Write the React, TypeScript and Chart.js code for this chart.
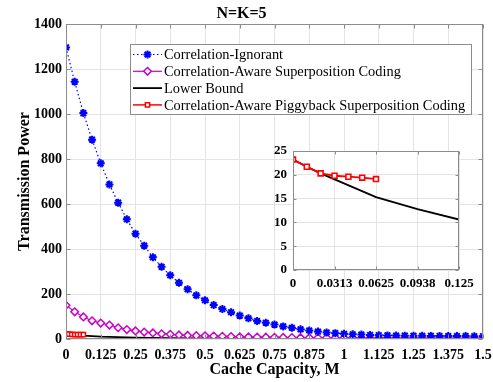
import React, { useEffect, useRef } from "react";
import { Chart, registerables } from "chart.js";

Chart.register(...registerables);

const FONT = "'Liberation Serif', 'Times New Roman', serif";

// ---------- data ----------
const chartTitle = "N=K=5";
const xTitle = "Cache Capacity, M";
const yTitle = "Transmission Power";

const legendLabels = [
  "Correlation-Ignorant",
  "Correlation-Aware Superposition Coding",
  "Lower Bound",
  "Correlation-Aware Piggyback Superposition Coding",
];

// cache capacity grid (step 1/32) for the first two curves
const mGrid = [
  0, 0.03125, 0.0625, 0.09375, 0.125, 0.15625, 0.1875, 0.21875, 0.25, 0.28125,
  0.3125, 0.34375, 0.375, 0.40625, 0.4375, 0.46875, 0.5, 0.53125, 0.5625, 0.59375,
  0.625, 0.65625, 0.6875, 0.71875, 0.75, 0.78125, 0.8125, 0.84375, 0.875, 0.90625,
  0.9375, 0.96875, 1, 1.03125, 1.0625, 1.09375, 1.125, 1.15625, 1.1875, 1.21875,
  1.25, 1.28125, 1.3125, 1.34375, 1.375, 1.40625, 1.4375, 1.46875, 1.5,
];

const ignorantPower = [
  1296, 1143, 1004, 886, 781, 687, 606, 532, 468, 415,
  363, 321, 283, 250, 221, 194, 172, 151, 133, 119,
  104, 92, 80, 72, 64, 56, 50, 43, 38, 33,
  29, 26, 23, 21, 19.5, 18, 17, 16, 15.5, 15,
  14.5, 14, 13.8, 13.5, 13.2, 13, 12.8, 12.6, 12.5,
];

const superpositionPower = [
  150, 121, 98, 81, 71, 62, 50, 42, 36, 31,
  27, 23, 21, 18, 16, 15, 14, 13, 12, 11,
  10, 9, 8.5, 8, 7.5, 7, 6.5, 6, 5.8, 5.5,
  5.2, 5, 4.8, 4.6, 4.4, 4.2, 4, 3.9, 3.8, 3.7,
  3.6, 3.5, 3.4, 3.3, 3.2, 3.1, 3, 3, 3,
];

const lowerBoundM = [0, 0.0104, 0.0208, 0.0625, 0.09375, 0.125, 0.25, 0.375, 0.5, 0.75, 1, 1.25, 1.5];
const lowerBoundPower = [23.2, 21.7, 20.3, 15.3, 12.8, 10.6, 6, 4, 2.6, 1.2, 0.5, 0.2, 0];

const piggybackM = [0, 0.0104, 0.0208, 0.03125, 0.0417, 0.0521, 0.0625];
const piggybackPower = [23.2, 21.7, 20.3, 19.8, 19.6, 19.4, 19.1];

const insetXTickValues = [0, 0.03125, 0.0625, 0.09375, 0.125];
const insetXTickLabels = ["0", "0.0313", "0.0625", "0.0938", "0.125"];

// ---------- helpers ----------
const zip = (xs: number[], ys: number[]) => xs.map((x, i) => ({ x, y: ys[i] }));

const BLUE = "#0000ff";
const MAGENTA = "#c800c8";
const RED = "#ff0000";
const BLACK = "#000000";
const GRID = "#e4e4e4";
const FRAME = "#8c8c8c";

function drawMarker(ctx: CanvasRenderingContext2D, style: string, x: number, y: number, r: number, fill: string, stroke: string, lw: number) {
  ctx.save();
  ctx.lineWidth = lw;
  ctx.strokeStyle = stroke;
  ctx.fillStyle = fill;
  ctx.beginPath();
  if (style === "star") {
    ctx.moveTo(x - r, y); ctx.lineTo(x + r, y);
    ctx.moveTo(x, y - r); ctx.lineTo(x, y + r);
    const d = r * 0.7071;
    ctx.moveTo(x - d, y - d); ctx.lineTo(x + d, y + d);
    ctx.moveTo(x - d, y + d); ctx.lineTo(x + d, y - d);
    ctx.stroke();
  } else if (style === "rectRot") {
    ctx.moveTo(x, y - r); ctx.lineTo(x + r, y); ctx.lineTo(x, y + r); ctx.lineTo(x - r, y); ctx.closePath();
    ctx.fill(); ctx.stroke();
  } else if (style === "rect") {
    const s = r * 0.7071;
    ctx.rect(x - s, y - s, 2 * s, 2 * s);
    ctx.fill(); ctx.stroke();
  }
  ctx.restore();
}

const framePlugin = {
  id: "frame",
  beforeDraw(chart: any, _args: any, opts: any) {
    if (!opts || !opts.fill) return;
    const { ctx, chartArea: a } = chart;
    ctx.save();
    ctx.fillStyle = opts.fill;
    ctx.fillRect(a.left, a.top, a.right - a.left, a.bottom - a.top);
    ctx.restore();
  },
  afterDraw(chart: any, _args: any, opts: any) {
    const { ctx, chartArea: a, scales } = chart;
    const tl = (opts && opts.tickLen) || 4;
    ctx.save();
    ctx.strokeStyle = FRAME;
    ctx.lineWidth = 1;
    const L = Math.round(a.left) + 0.5, R = Math.round(a.right) - 0.5;
    const T = Math.round(a.top) + 0.5, B = Math.round(a.bottom) - 0.5;
    ctx.beginPath();
    scales.x.ticks.forEach((_t: any, i: number) => {
      const px = Math.round(scales.x.getPixelForTick(i)) + 0.5;
      ctx.moveTo(px, B); ctx.lineTo(px, B - tl);
      ctx.moveTo(px, T); ctx.lineTo(px, T + tl);
    });
    scales.y.ticks.forEach((_t: any, i: number) => {
      const py = Math.round(scales.y.getPixelForTick(i)) + 0.5;
      ctx.moveTo(L, py); ctx.lineTo(L + tl, py);
      ctx.moveTo(R, py); ctx.lineTo(R - tl, py);
    });
    ctx.stroke();
    ctx.strokeRect(L, T, R - L, B - T);
    ctx.restore();
  },
};

const boxLegendPlugin = {
  id: "boxLegend",
  afterDraw(chart: any, _args: any, opts: any) {
    if (!opts || !opts.items) return;
    const ctx: CanvasRenderingContext2D = chart.ctx;
    const { x, y, w, h, rowTop, rowStep, lineX0, lineX1, textX, fontSize } = opts;
    ctx.save();
    ctx.fillStyle = "#ffffff";
    ctx.fillRect(x, y, w, h);
    ctx.strokeStyle = FRAME;
    ctx.lineWidth = 1;
    ctx.strokeRect(x + 0.5, y + 0.5, w, h);
    ctx.font = `${fontSize}px ${FONT}`;
    ctx.textBaseline = "middle";
    ctx.textAlign = "left";
    opts.items.forEach((it: any, row: number) => {
      const ds = chart.data.datasets[it.ds];
      const cy = rowTop + row * rowStep;
      ctx.save();
      ctx.strokeStyle = ds.borderColor;
      ctx.lineWidth = ds.borderWidth;
      ctx.setLineDash(ds.borderDash || []);
      ctx.beginPath();
      ctx.moveTo(lineX0, cy);
      ctx.lineTo(lineX1, cy);
      ctx.stroke();
      ctx.restore();
      if (ds.pointRadius > 0) {
        drawMarker(ctx, ds.pointStyle, (lineX0 + lineX1) / 2, cy, ds.pointRadius, ds.pointBackgroundColor, ds.pointBorderColor, ds.pointBorderWidth);
      }
      ctx.fillStyle = "#000";
      ctx.fillText(legendLabels[row], textX, cy + 1);
    });
    ctx.restore();
  },
};

export default function App() {
  const mainRef = useRef<HTMLCanvasElement>(null);
  const insetRef = useRef<HTMLCanvasElement>(null);

  useEffect(() => {
    const tickFont = { family: FONT, size: 14, weight: "bold" as const };
    const titleFont = { family: FONT, size: 16, weight: "bold" as const, lineHeight: 1.2 };

    const main = new Chart(mainRef.current!, {
      type: "scatter",
      data: {
        datasets: [
          {
            label: legendLabels[0],
            data: zip(mGrid, ignorantPower),
            showLine: true,
            borderColor: BLUE,
            borderWidth: 1.2,
            borderDash: [1.5, 2.5],
            pointStyle: "star",
            pointRadius: 4,
            pointBorderWidth: 2,
            pointBorderColor: BLUE,
            pointBackgroundColor: BLUE,
          },
          {
            label: legendLabels[1],
            data: zip(mGrid, superpositionPower),
            showLine: true,
            borderColor: MAGENTA,
            borderWidth: 1.2,
            pointStyle: "rectRot",
            pointRadius: 3.8,
            pointBorderWidth: 1.5,
            pointBorderColor: MAGENTA,
            pointBackgroundColor: "#ffffff",
          },
          {
            label: legendLabels[3],
            data: zip(piggybackM, piggybackPower),
            showLine: true,
            borderColor: RED,
            borderWidth: 1.5,
            pointStyle: "rect",
            pointRadius: 3,
            pointBorderWidth: 1.5,
            pointBorderColor: RED,
            pointBackgroundColor: "#ffffff",
          },
          {
            label: legendLabels[2],
            data: zip(lowerBoundM, lowerBoundPower),
            showLine: true,
            borderColor: BLACK,
            borderWidth: 1.8,
            pointRadius: 0,
            pointBorderWidth: 0,
            pointBorderColor: BLACK,
            pointBackgroundColor: BLACK,
          },
        ] as any,
      },
      options: {
        animation: false,
        responsive: false,
        devicePixelRatio: 1,
        layout: { padding: { left: 0, right: 10, top: 0, bottom: 0 } },
        scales: {
          x: {
            type: "linear",
            min: 0,
            max: 1.5,
            border: { display: false },
            grid: { color: GRID, drawTicks: false, lineWidth: 1 },
            ticks: { stepSize: 0.125, padding: 8, color: "#000", font: tickFont, callback: (v: any) => String(v), maxRotation: 0, autoSkip: false },
            title: { display: true, text: xTitle, color: "#000", font: titleFont, padding: { top: 0, bottom: 2.4 } },
            afterFit: (s: any) => { s.height = 43; s.paddingLeft = 0; s.paddingRight = 0; },
          },
          y: {
            type: "linear",
            min: 0,
            max: 1400,
            border: { display: false },
            grid: { color: GRID, drawTicks: false, lineWidth: 1 },
            ticks: { stepSize: 200, padding: 4, color: "#000", font: tickFont, callback: (v: any) => String(v) },
            title: { display: true, text: yTitle, color: "#000", font: titleFont, padding: { top: 15.4, bottom: 0 } },
            afterFit: (s: any) => { s.width = 66; s.paddingTop = 0; s.paddingBottom = 0; },
          },
        },
        plugins: {
          legend: { display: false },
          tooltip: { enabled: false },
          title: { display: true, text: chartTitle, color: "#000", font: titleFont, padding: { top: 4.5, bottom: 0.3 } },
          frame: { tickLen: 4 },
          boxLegend: {
            items: [{ ds: 0 }, { ds: 1 }, { ds: 3 }, { ds: 2 }],
            x: 130, y: 44, w: 341, h: 70,
            rowTop: 54.5, rowStep: 16.8,
            lineX0: 133, lineX1: 162, textX: 164, fontSize: 14.4,
          },
        } as any,
      },
      plugins: [framePlugin as any, boxLegendPlugin as any],
    });

    const insetFont = { family: FONT, size: 13, weight: "bold" as const };
    const inset = new Chart(insetRef.current!, {
      type: "scatter",
      data: {
        datasets: [
          {
            data: zip(piggybackM, piggybackPower),
            showLine: true,
            borderColor: RED,
            borderWidth: 1.8,
            pointStyle: "rect",
            pointRadius: 3.5,
            pointBorderWidth: 1.6,
            pointBorderColor: RED,
            pointBackgroundColor: "#ffffff",
          },
          {
            data: zip(lowerBoundM, lowerBoundPower),
            showLine: true,
            borderColor: BLACK,
            borderWidth: 1.8,
            pointRadius: 0,
          },
        ] as any,
      },
      options: {
        animation: false,
        responsive: false,
        devicePixelRatio: 1,
        layout: { padding: { left: 0, right: 31, top: 11, bottom: 0 } },
        scales: {
          x: {
            type: "linear",
            min: 0,
            max: 0.125,
            border: { display: false },
            grid: { color: GRID, drawTicks: false },
            afterBuildTicks: (s: any) => { s.ticks = insetXTickValues.map((v) => ({ value: v })); },
            ticks: { padding: 6, color: "#000", font: insetFont, callback: (_v: any, i: number) => insetXTickLabels[i], maxRotation: 0, autoSkip: false },
            afterFit: (s: any) => { s.height = 30; s.paddingLeft = 0; s.paddingRight = 0; },
          },
          y: {
            type: "linear",
            min: 0,
            max: 25,
            border: { display: false },
            grid: { color: GRID, drawTicks: false },
            ticks: { stepSize: 5, padding: 6, color: "#000", font: insetFont },
            afterFit: (s: any) => { s.width = 43; s.paddingTop = 0; s.paddingBottom = 0; },
          },
        },
        plugins: {
          legend: { display: false },
          tooltip: { enabled: false },
          title: { display: false },
          frame: { fill: "#ffffff", tickLen: 3 },
        } as any,
      },
      plugins: [framePlugin as any],
    });

    return () => {
      main.destroy();
      inset.destroy();
    };
  }, []);

  return (
    <div style={{ position: "fixed", left: 0, top: 0, width: 493, height: 382, background: "#ffffff" }}>
      <canvas ref={mainRef} width={493} height={382} style={{ position: "absolute", left: 0, top: 0, width: 493, height: 382 }} />
      <canvas ref={insetRef} width={240} height={160} style={{ position: "absolute", left: 250, top: 140, width: 240, height: 160 }} />
    </div>
  );
}
